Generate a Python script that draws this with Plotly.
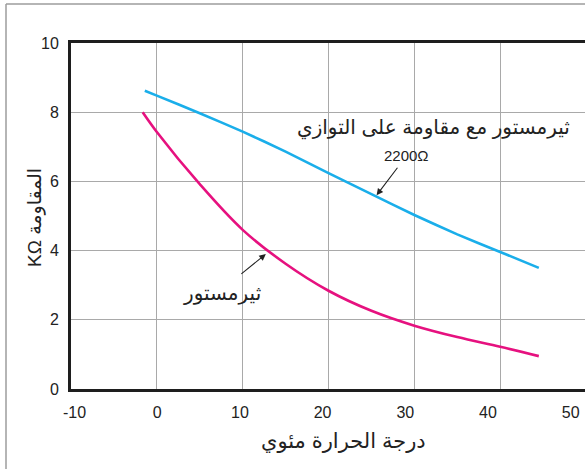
import plotly.graph_objects as go

# Temperature (°C) vs resistance (kΩ)
thermistor_t = [-1.65, 0, 5, 10, 15, 20, 25, 30, 35, 40, 44.5]
thermistor_r = [8.0, 7.43, 5.92, 4.6, 3.62, 2.84, 2.26, 1.83, 1.5, 1.22, 0.95]

parallel_t = [-1.4, 0, 5, 10, 15, 20, 25, 30, 35, 40, 44.5]
parallel_r = [8.62, 8.48, 7.97, 7.44, 6.86, 6.24, 5.63, 5.03, 4.47, 3.96, 3.5]

x_ticks = [-10, 0, 10, 20, 30, 40, 50]
y_ticks = [0, 2, 4, 6, 8, 10]

BLUE = "#1aaeea"
PINK = "#e6117f"
GRID = "#a9a9a9"
INK = "#222"
FONT = "Liberation Sans, DejaVu Sans, sans-serif"

W, H = 585, 469
L, R, T, B = 71, 0, 43, 80

fig = go.Figure()
fig.add_trace(go.Scatter(x=parallel_t, y=parallel_r, mode="lines",
                         line=dict(color=BLUE, width=2.6, shape="spline", smoothing=0.5),
                         hoverinfo="skip", showlegend=False))
fig.add_trace(go.Scatter(x=thermistor_t, y=thermistor_r, mode="lines",
                         line=dict(color=PINK, width=2.6, shape="spline", smoothing=1.0),
                         hoverinfo="skip", showlegend=False))
# carrier for the tick-label axis underneath the plot
fig.add_trace(go.Scatter(x=[None], y=[None], xaxis="x2", mode="lines",
                         hoverinfo="skip", showlegend=False))

pw = W - L - R
ph = H - T - B


def px_x(p):
    return (p - L) / pw


def px_y(p):
    return (H - B - p) / ph


shapes = [
    # outer frame
    dict(type="line", xref="paper", yref="paper", x0=px_x(6), x1=px_x(6),
         y0=px_y(4), y1=px_y(480), line=dict(color="#9c9c9c", width=1.5)),
    dict(type="line", xref="paper", yref="paper", x0=px_x(6), x1=px_x(600),
         y0=px_y(4), y1=px_y(4), line=dict(color="#9c9c9c", width=1.5)),
]

annotations = [
    dict(x=25.6, y=5.6, xref="x", yref="y", ax=22, ay=-29,
         text="", showarrow=True, arrowhead=2, arrowsize=1.2, arrowwidth=1.1,
         arrowcolor=INK),
    dict(x=12.7, y=3.9, xref="x", yref="y", ax=-26, ay=21,
         text="", showarrow=True, arrowhead=2, arrowsize=1.2, arrowwidth=1.1,
         arrowcolor=INK),
    dict(x=32.2, y=7.54, xref="x", yref="y", text="ثيرمستور مع مقاومة على التوازي",
         showarrow=False, font=dict(family=FONT, size=20, color=INK)),
    dict(x=29.1, y=6.76, xref="x", yref="y", text="2200Ω",
         showarrow=False, font=dict(family=FONT, size=15, color=INK)),
    dict(x=7.6, y=2.77, xref="x", yref="y", text="ثيرمستور",
         showarrow=False, font=dict(family=FONT, size=20, color=INK)),
    # axis titles
    dict(x=px_x(343), y=px_y(441), xref="paper", yref="paper",
         xanchor="center", yanchor="middle",
         text="درجة الحرارة مئوي", showarrow=False,
         font=dict(family=FONT, size=21, color=INK)),
    dict(x=px_x(35), y=px_y(218), xref="paper", yref="paper",
         xanchor="center", yanchor="middle",
         text="KΩ المقاومة", textangle=-90, showarrow=False,
         font=dict(family=FONT, size=19, color=INK)),
]

fig.update_layout(
    width=W, height=H,
    margin=dict(l=L, r=R, t=T, b=B),
    paper_bgcolor="white", plot_bgcolor="white",
    font=dict(family=FONT, size=16, color=INK),
    xaxis=dict(range=[-10, 49.88], tickvals=x_ticks, showticklabels=False,
               showgrid=True, gridcolor=GRID, gridwidth=1.3,
               showline=True, linecolor="#1e1e1e", linewidth=3, mirror=True,
               zeroline=False, ticks=""),
    xaxis2=dict(overlaying="x", anchor="y", side="bottom", range=[-10.42, 51.73],
                tickvals=x_ticks, ticktext=[str(v) for v in x_ticks],
                showgrid=False, showline=False, zeroline=False,
                ticks="outside", ticklen=9, tickcolor="rgba(0,0,0,0)",
                tickfont=dict(family=FONT, size=16, color=INK)),
    yaxis=dict(range=[0, 10], tickvals=y_ticks, showgrid=True, gridcolor=GRID,
               gridwidth=1.3, showline=True, linecolor="#1e1e1e", linewidth=3,
               zeroline=False, ticks="outside", ticklen=6, tickcolor="rgba(0,0,0,0)",
               tickfont=dict(family=FONT, size=16, color=INK)),
    shapes=shapes,
    annotations=annotations,
)

fig.write_html("out.html")
